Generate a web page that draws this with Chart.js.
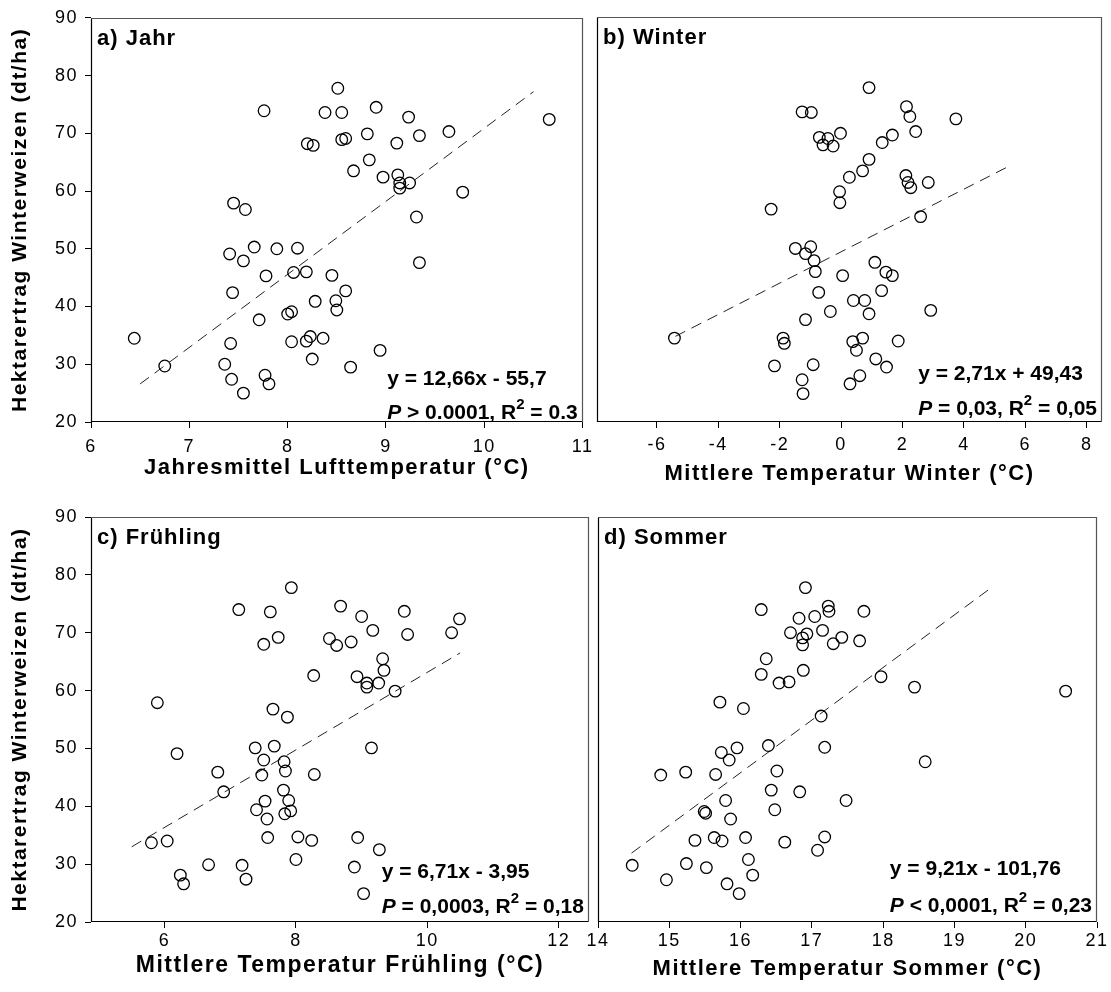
<!DOCTYPE html>
<html>
<head>
<meta charset="utf-8">
<script src="https://cdn.jsdelivr.net/npm/chart.js@4.4.1/dist/chart.umd.min.js"></script>
<style>
  body { margin: 0; background: #fff; width: 1111px; height: 992px; position: relative; overflow: hidden; }
  canvas { position: absolute; }
</style>
</head>
<body>
<canvas id="panelA" width="600" height="495" style="left:0;top:0"></canvas>
<canvas id="panelB" width="521" height="495" style="left:590px;top:0"></canvas>
<canvas id="panelC" width="596" height="497" style="left:0;top:495px"></canvas>
<canvas id="panelD" width="525" height="497" style="left:586px;top:495px"></canvas>
<script>
const FONT = '"Liberation Sans", Arial, Helvetica, sans-serif';

// a) Jahr
const xJahr = [6.44, 6.75, 7.76, 7.45, 7.57, 7.41, 7.55, 7.66, 7.89, 8.10, 7.78, 8.06, 8.19, 8.45, 7.44, 7.71, 8.00, 8.04, 8.28, 8.49,
  8.50, 8.59, 7.36, 7.42, 7.43, 7.55, 7.77, 7.81, 8.04, 8.19, 8.23, 8.36, 8.25, 8.38, 8.20, 8.26, 8.51, 8.55, 8.90, 9.23,
  10.66, 8.55, 8.59, 8.81, 9.34, 9.64, 9.11, 8.83, 8.67, 8.97, 9.12, 9.14, 9.24, 9.14, 9.78, 9.31, 9.34, 8.94, 8.64];
const yJahr = [34.5, 29.7, 73.9, 57.9, 56.8, 49.1, 47.9, 50.3, 50.0, 50.1, 45.3, 45.9, 46.0, 45.4, 42.4, 37.7, 38.7, 39.1, 40.9, 41.0,
  39.4, 42.7, 30.0, 33.6, 27.4, 25.0, 28.1, 26.6, 33.9, 34.0, 34.8, 34.5, 30.9, 73.6, 68.2, 67.9, 77.8, 73.6, 74.5, 72.8,
  72.4, 68.9, 69.1, 69.9, 69.6, 70.3, 68.3, 65.4, 63.5, 62.4, 62.8, 61.4, 61.4, 60.5, 59.8, 55.5, 47.6, 32.4, 29.5];

// b) Winter
const xWinter = [-5.43, -1.27, -0.97, -0.02, -0.71, -0.43, -0.59, -0.26, 0.27, -0.05, -0.04, -2.28, -1.49, -0.99, -1.16, -0.88, -0.84, 0.05, -0.73, 0.40,
  -0.35, -1.16, -1.89, -1.85, 0.38, 0.50, -2.17, -0.91, -1.27, -1.24, 0.29, 0.91, 2.13, 2.24, 3.74, 2.43, 1.67, 1.34, 0.91, 0.70,
  2.11, 2.18, 2.27, 2.84, 2.59, 1.10, 1.46, 1.67, 1.32, 0.77, 0.91, 2.92, 0.70, 1.86, 1.13, 1.48, 0.61];
const yWinter = [34.5, 73.6, 73.5, 69.9, 69.2, 69.0, 67.9, 67.7, 62.3, 59.8, 57.9, 56.8, 50.0, 50.3, 49.1, 47.9, 46.0, 45.3, 42.4, 41.0,
  39.1, 37.7, 34.5, 33.6, 33.9, 32.4, 29.7, 29.9, 27.3, 24.9, 26.6, 77.8, 74.5, 72.8, 72.4, 70.2, 69.6, 68.3, 65.4, 63.4,
  62.6, 61.4, 60.5, 61.4, 55.5, 47.6, 45.9, 45.3, 42.7, 41.0, 38.7, 39.3, 34.5, 34.0, 30.9, 29.5, 28.0];

// c) Frühling
const xFruehling = [7.93, 7.13, 7.61, 7.73, 7.51, 8.51, 8.62, 8.68, 8.27, 5.89, 7.65, 7.87, 6.19, 7.38, 7.67, 7.51, 7.82, 7.84, 7.48, 6.81,
  8.28, 6.90, 7.81, 7.89, 7.92, 7.53, 7.40, 7.83, 7.56, 5.80, 6.04, 7.57, 8.03, 8.24, 8.00, 6.67, 7.18, 7.24, 6.24, 6.29,
  9.00, 9.65, 10.49, 10.37, 9.17, 9.70, 8.84, 9.32, 9.34, 8.93, 9.08, 9.08, 9.26, 9.51, 9.15, 8.94, 9.27, 8.89, 9.03];
const yFruehling = [77.8, 74.0, 73.6, 69.2, 68.0, 69.0, 67.8, 74.6, 62.6, 57.9, 56.8, 55.4, 49.1, 50.1, 50.4, 48.0, 47.7, 46.1, 45.4, 45.9,
  45.5, 42.5, 42.8, 41.0, 39.2, 40.9, 39.4, 38.7, 37.8, 33.7, 34.0, 34.6, 34.7, 34.1, 30.8, 29.9, 29.8, 27.4, 28.1, 26.6,
  72.8, 73.7, 72.4, 70.0, 70.4, 69.7, 68.4, 65.5, 63.5, 62.4, 61.3, 60.6, 61.3, 59.9, 50.1, 34.6, 32.5, 29.5, 24.9];

// d) Sommer
const xSommer = [16.91, 16.29, 17.23, 17.24, 16.82, 17.04, 16.70, 17.15, 16.93, 16.87, 16.87, 17.30, 17.42, 17.67, 17.73, 16.36, 16.29, 16.88, 16.54, 16.68,
  15.71, 16.04, 17.13, 15.95, 16.39, 17.18, 15.73, 15.84, 14.88, 15.23, 15.65, 16.51, 16.43, 16.83, 17.48, 15.79, 15.49, 15.51, 15.86, 16.48,
  15.36, 15.63, 15.74, 16.07, 16.62, 17.18, 17.08, 14.48, 15.24, 15.52, 16.11, 16.17, 14.96, 15.81, 15.98, 17.97, 18.44, 20.56, 18.59];
const ySommer = [77.8, 74.0, 74.6, 73.7, 72.5, 72.8, 70.0, 70.4, 69.8, 69.1, 67.9, 68.1, 69.2, 68.6, 73.7, 65.5, 62.8, 63.5, 61.3, 61.5,
  58.0, 56.9, 55.6, 50.1, 50.5, 50.2, 49.3, 48.0, 45.4, 45.9, 45.5, 46.1, 42.8, 42.5, 41.0, 41.0, 39.1, 38.8, 37.8, 39.4,
  34.1, 34.6, 34.0, 34.6, 33.8, 34.7, 32.4, 29.8, 30.1, 29.4, 30.8, 28.1, 27.3, 26.6, 24.9, 62.4, 60.6, 59.9, 47.7];

// regression lines (end points)
const fitJahrX = [6.5, 10.5], fitJahrY = [26.6, 77.2];
const fitWinterX = [-5.4, 5.5], fitWinterY = [34.8, 64.3];
const fitFruehlingX = [5.5, 10.5], fitFruehlingY = [33.0, 66.5];
const fitSommerX = [14.47, 19.53], fitSommerY = [31.9, 77.9];

// ticks
const yTicks = [20, 30, 40, 50, 60, 70, 80, 90];
const ticksJahr = [6, 7, 8, 9, 10, 11];
const ticksWinter = [-6, -4, -2, 0, 2, 4, 6, 8];
const ticksFruehling = [6, 8, 10, 12];
const ticksSommer = [14, 15, 16, 17, 18, 19, 20, 21];

// texts
const panelLabels = ['a) Jahr', 'b) Winter', 'c) Frühling', 'd) Sommer'];
const xTitles = ['Jahresmittel Lufttemperatur (°C)', 'Mittlere Temperatur Winter (°C)',
  'Mittlere Temperatur Frühling (°C)', 'Mittlere Temperatur Sommer (°C)'];
const yTitle = 'Hektarertrag Winterweizen (dt/ha)';
const equations = ['y = 12,66x - 55,7', 'y = 2,71x + 49,43', 'y = 6,71x - 3,95', 'y = 9,21x - 101,76'];
const statPre = [' > 0.0001, R', ' = 0,03, R', ' = 0,0003, R', ' < 0,0001, R'];
const statPost = [' = 0.3', ' = 0,05', ' = 0,18', ' = 0,23'];

const toPoints = (xs, ys) => xs.map((x, i) => ({ x: x, y: ys[i] }));

// frame, panel label and regression text
const panelDeco = {
  id: 'panelDeco',
  beforeDraw(chart) {
    chart.ctx.letterSpacing = '1.5px';
  },
  afterDraw(chart, args, o) {
    const ctx = chart.ctx;
    const a = chart.chartArea;
    const l = Math.round(a.left) + 0.5, r = Math.round(a.right) - 0.5;
    const t = Math.round(a.top) + 0.5, b = Math.round(a.bottom) - 0.5;
    ctx.save();
    ctx.lineWidth = 1.2;
    ctx.strokeStyle = '#555';
    ctx.beginPath();
    ctx.moveTo(l, t); ctx.lineTo(r, t); ctx.lineTo(r, b);
    ctx.stroke();
    ctx.strokeStyle = '#000';
    ctx.beginPath();
    ctx.moveTo(l, t); ctx.lineTo(l, b); ctx.lineTo(r, b);
    ctx.stroke();

    ctx.fillStyle = '#000';
    ctx.textBaseline = 'alphabetic';
    ctx.textAlign = 'left';
    ctx.letterSpacing = '1px';
    ctx.font = 'bold 22px ' + FONT;
    ctx.fillText(o.label, a.left + 6, a.top + 27);

    ctx.letterSpacing = '0px';
    const f = 'bold 21px ' + FONT, fi = 'italic bold 21px ' + FONT, fs = 'bold 15px ' + FONT;
    ctx.font = fi; const wP = ctx.measureText('P').width;
    ctx.font = f; const w1 = ctx.measureText(o.pre).width;
    ctx.font = fs; const w2 = ctx.measureText('2').width;
    ctx.font = f; const w3 = ctx.measureText(o.post).width;
    const x0 = a.right - 5 - (wP + w1 + w2 + w3);
    const y1 = a.bottom - o.dy1, y2 = a.bottom - o.dy2;
    ctx.font = f;
    ctx.fillText(o.eq, x0, y1);
    ctx.font = fi;
    ctx.fillText('P', x0, y2);
    ctx.font = f;
    ctx.fillText(o.pre, x0 + wP, y2);
    ctx.font = fs;
    ctx.fillText('2', x0 + wP + w1, y2 - 10);
    ctx.font = f;
    ctx.fillText(o.post, x0 + wP + w1 + w2, y2);
    ctx.restore();
  }
};

function makePanel(id, i, pts, fit, xTicks, xMin, xMax, lay) {
  const scales = {
    x: {
      type: 'linear', min: xMin, max: xMax,
      afterBuildTicks: s => { s.ticks = xTicks.map(v => ({ value: v })); },
      afterFit: s => { s.height = lay.xHeight; },
      grid: { drawOnChartArea: false, drawTicks: true, tickLength: 6, color: '#000' },
      border: { display: false },
      ticks: { color: '#000', padding: lay.tickPad, font: { size: 18 }, callback: v => String(v) },
      title: {
        display: true, text: xTitles[i], color: '#000',
        font: { size: lay.titleSize, weight: 'bold' },
        padding: { top: 0, bottom: lay.titlePad }
      }
    },
    y: { min: 20, max: 90, display: false }
  };
  if (lay.yAxis) {
    scales.y = {
      min: 20, max: 90,
      afterBuildTicks: s => { s.ticks = yTicks.map(v => ({ value: v })); },
      afterFit: s => { s.width = 91; },
      grid: { drawOnChartArea: false, drawTicks: true, tickLength: 6, color: '#000' },
      border: { display: false },
      ticks: { color: '#000', padding: 7, font: { size: 18 } },
      title: {
        display: true, text: yTitle, color: '#000',
        font: { size: 21, weight: 'bold' },
        padding: { top: 8, bottom: 0 }
      }
    };
  }
  return new Chart(document.getElementById(id), {
    type: 'scatter',
    data: {
      datasets: [{
        data: pts,
        pointStyle: 'circle',
        pointRadius: 5.8,
        borderWidth: 1.3,
        borderColor: '#000',
        backgroundColor: 'rgba(0,0,0,0)'
      }, {
        data: fit,
        showLine: true,
        borderColor: '#222',
        borderWidth: 1,
        borderDash: [11, 7],
        pointRadius: 0
      }]
    },
    options: {
      responsive: false,
      animation: false,
      events: [],
      layout: { padding: lay.padding },
      scales: scales,
      plugins: {
        legend: { display: false },
        tooltip: { enabled: false },
        panelDeco: {
          label: panelLabels[i], eq: equations[i], pre: statPre[i], post: statPost[i],
          dy1: lay.dy1, dy2: lay.dy2
        }
      }
    },
    plugins: [panelDeco]
  });
}

Chart.defaults.font.family = FONT;
Chart.defaults.color = '#000';

makePanel('panelA', 0, toPoints(xJahr, yJahr), toPoints(fitJahrX, fitJahrY), ticksJahr, 6, 11,
  { yAxis: true, padding: { top: 17, right: 3, left: 0, bottom: 0 }, xHeight: 73, tickPad: 8, titleSize: 22, titlePad: 14, dy1: 37, dy2: 3 });
makePanel('panelB', 1, toPoints(xWinter, yWinter), toPoints(fitWinterX, fitWinterY), ticksWinter, -7.95, 8.5,
  { yAxis: false, padding: { top: 17, right: 9, left: 7, bottom: 0 }, xHeight: 73, tickPad: 6, titleSize: 22, titlePad: 8, dy1: 42, dy2: 7 });
makePanel('panelC', 2, toPoints(xFruehling, yFruehling), toPoints(fitFruehlingX, fitFruehlingY), ticksFruehling, 4.88, 12.46,
  { yAxis: true, padding: { top: 22, right: 3, left: 0, bottom: 0 }, xHeight: 70, tickPad: 2, titleSize: 23, titlePad: 13, dy1: 44, dy2: 9 });
makePanel('panelD', 3, toPoints(xSommer, ySommer), toPoints(fitSommerX, fitSommerY), ticksSommer, 14, 21,
  { yAxis: false, padding: { top: 22, right: 14, left: 7, bottom: 0 }, xHeight: 70, tickPad: 2, titleSize: 22, titlePad: 10, dy1: 47, dy2: 10 });
</script>
</body>
</html>
